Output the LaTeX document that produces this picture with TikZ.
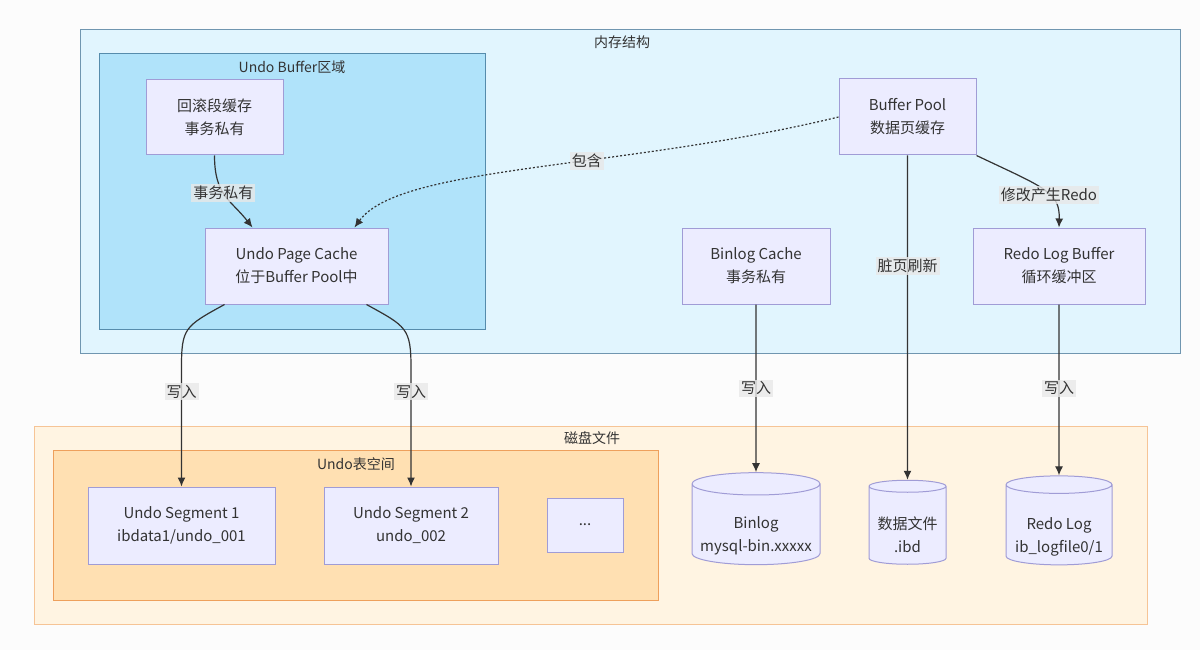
\documentclass[tikz,border=0pt]{standalone}
\usepackage{fontspec}
\setmainfont{Noto Sans CJK SC}
\usetikzlibrary{shapes.geometric,arrows.meta}
\definecolor{pageBg}{RGB}{252,252,252}
\definecolor{memFill}{RGB}{225,245,254}
\definecolor{memEdge}{RGB}{112,150,176}
\definecolor{undoFill}{RGB}{176,227,250}
\definecolor{undoEdge}{RGB}{86,140,172}
\definecolor{diskFill}{RGB}{255,244,226}
\definecolor{diskEdge}{RGB}{246,196,150}
\definecolor{spaceFill}{RGB}{255,224,178}
\definecolor{spaceEdge}{RGB}{238,160,92}
\definecolor{boxFill}{RGB}{236,236,255}
\definecolor{boxEdge}{RGB}{160,156,214}
\definecolor{ink}{RGB}{51,51,51}
\definecolor{lblBg}{RGB}{232,232,232}
% cylinder text sits a little below the middle
\newcommand\cyltext[1]{\raisebox{-11pt}[\height][\depth]{\begin{tabular}{@{}c@{}}#1\end{tabular}}}

\begin{document}
\begin{tikzpicture}[x=1pt,y=-1pt,
  every node/.style={text=ink,font=\fontsize{15}{23}\selectfont},
  box/.style={draw=boxEdge,fill=boxFill,line width=1pt,align=center,inner sep=0pt},
  store/.style={box,cylinder,shape border rotate=90,aspect=0.2},
  frametitle/.style={font=\fontsize{14}{17}\selectfont},
  flow/.style={draw=ink,line width=1.2pt,-{Latex[length=9pt,width=8pt]}},
  lbl/.style={fill=lblBg,fill opacity=0.8,text opacity=1,inner sep=2pt}]
  \useasboundingbox (0,0) rectangle (1200,650);
  \fill[pageBg] (0,0) rectangle (1200,650);

  % frames
  \draw[memEdge,fill=memFill,line width=1pt] (80,30) rectangle (1180,353);
  \draw[undoEdge,fill=undoFill,line width=1pt] (99,54) rectangle (485,329);
  \draw[diskEdge,fill=diskFill,line width=1pt] (34,426) rectangle (1147,624);
  \draw[spaceEdge,fill=spaceFill,line width=1pt] (53,450) rectangle (658,600);
  \node[frametitle] (memT) at (622,42) {内存结构};
  \node[frametitle] (undoT) at (292,67) {Undo Buffer区域};
  \node[frametitle] (diskT) at (592,438) {磁盘文件};
  \node[frametitle] (spaceT) at (356,464) {Undo表空间};

  % memory nodes
  \node[box,minimum width=137pt,minimum height=75pt] (rb) at (214.5,117.5) {回滚段缓存\\事务私有};
  \node[box,minimum width=183pt,minimum height=76pt] (upc) at (296.5,266) {Undo Page Cache\\位于Buffer Pool中};
  \node[box,minimum width=137pt,minimum height=76pt] (bp) at (907.5,117) {Buffer Pool\\数据页缓存};
  \node[box,minimum width=148pt,minimum height=76pt] (blc) at (756,266) {Binlog Cache\\事务私有};
  \node[box,minimum width=172pt,minimum height=76pt] (rlb) at (1059,266) {Redo Log Buffer\\循环缓冲区};

  % disk nodes
  \node[box,minimum width=187pt,minimum height=77pt] (seg1) at (181.5,525.5) {Undo Segment 1\\ibdata1/undo\_001};
  \node[box,minimum width=174pt,minimum height=77pt] (seg2) at (411,525.5) {Undo Segment 2\\undo\_002};
  \node[box,minimum width=76pt,minimum height=54pt] (more) at (585,525) {...};
  \node[store,minimum width=128pt,minimum height=92pt] (binlog) at (756,524.5) {\cyltext{Binlog\\mysql-bin.xxxxx}};
  \node[store,minimum width=77pt,minimum height=84pt] (ibd) at (907.5,525.5) {\cyltext{数据文件\\.ibd}};
  \node[store,minimum width=106pt,minimum height=89pt] (redo) at (1059,525) {\cyltext{Redo Log\\ib\_logfile0/1}};

  % connectors
  \draw[flow] (rb.south) .. controls +(0,40) and +(-22,-28) .. ([xshift=-44pt]upc.north)
    node[lbl,pos=0.45] {事务私有};
  \draw[flow,dash pattern=on 2pt off 2pt] (bp.west) .. controls (620,170) and (400,165) .. ([xshift=58pt]upc.north)
    node[lbl,pos=0.4] {包含};
  \draw[flow] (bp.south) -- node[lbl,pos=0.34] {脏页刷新} (ibd.north);
  \draw[flow] (bp.south east) .. controls (1045,188) and (1060,192) .. (rlb.north)
    node[lbl,pos=0.58] {修改产生Redo};
  \draw[flow] ([xshift=-72pt]upc.south) .. controls +(-40,22) and +(0,-40) .. (181.5,368)
    -- node[lbl,pos=0.2] {写入} (seg1.north);
  \draw[flow] ([xshift=70pt]upc.south) .. controls +(40,22) and +(0,-40) .. (411,368)
    -- node[lbl,pos=0.2] {写入} (seg2.north);
  \draw[flow] (blc.south) -- node[lbl,pos=0.5] {写入} (binlog.north);
  \draw[flow] (rlb.south) -- node[lbl,pos=0.49] {写入} (redo.north);
\end{tikzpicture}
\end{document}
